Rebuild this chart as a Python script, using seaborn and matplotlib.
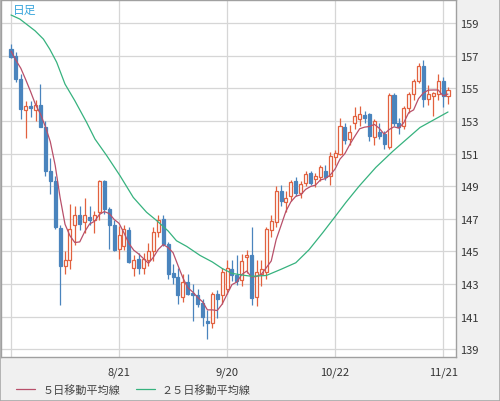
import numpy as np
import pandas as pd
import seaborn as sns
import matplotlib.pyplot as plt
from matplotlib.patches import Rectangle

sns.set_theme(style="white")
plt.rcParams['font.family'] = ['Noto Sans CJK JP', 'DejaVu Sans']

# daily candles, one per weekday from 7/22 to 11/22
opens = [157.40, 157.00, 155.60, 153.70, 153.90, 153.65, 154.00, 152.65, 149.90, 149.30,
         146.45, 144.10, 144.50, 146.60, 147.20, 146.80, 147.10, 146.90, 147.40, 149.30,
         147.60, 146.60, 145.15, 145.30, 146.30, 144.00, 144.55, 144.00, 144.50, 145.00,
         146.20, 147.00, 145.45, 143.65, 143.45, 142.20, 143.10, 142.45, 142.30, 141.85,
         140.75, 140.60, 142.40, 142.35, 142.70, 143.90, 143.55, 143.25, 144.65, 144.75,
         142.20, 143.60, 143.75, 146.30, 146.80, 148.70, 148.00, 148.40, 149.30, 148.60,
         149.20, 149.80, 149.45, 149.55, 149.90, 149.60, 150.80, 151.00, 152.65, 151.90,
         152.90, 153.10, 153.35, 153.40, 152.00, 152.30, 152.20, 151.40, 154.60, 152.90,
         152.70, 153.80, 154.65, 155.45, 156.35, 154.35, 154.55, 154.65, 155.45, 154.55]
highs = [157.70, 157.20, 155.90, 154.25, 154.20, 154.30, 155.25, 153.00, 150.70, 149.60,
         146.60, 145.00, 147.90, 147.80, 147.80, 148.30, 147.80, 147.50, 149.40, 149.40,
         147.70, 146.90, 146.55, 146.60, 146.50, 144.80, 144.90, 144.90, 145.50, 146.50,
         147.20, 147.20, 145.60, 144.20, 144.00, 143.60, 143.60, 143.00, 142.70, 142.10,
         141.40, 142.50, 142.60, 144.00, 144.50, 144.50, 144.75, 144.85, 145.10, 146.50,
         144.50, 144.50, 146.50, 147.20, 149.00, 149.10, 148.70, 149.35, 149.55, 149.30,
         149.95, 149.95, 149.80, 150.30, 150.30, 151.10, 151.20, 153.20, 152.90, 152.75,
         153.85, 153.90, 153.60, 153.50, 153.10, 152.90, 152.40, 154.70, 154.70, 153.20,
         153.90, 154.75, 155.60, 156.55, 156.75, 155.20, 154.80, 155.85, 155.70, 155.10]
lows = [156.85, 155.40, 153.10, 151.95, 153.25, 153.00, 152.60, 149.60, 148.50, 146.40,
        141.70, 143.60, 143.90, 145.40, 146.30, 146.10, 146.60, 146.10, 146.90, 147.30,
        145.15, 145.00, 144.55, 145.10, 144.30, 143.50, 143.60, 143.60, 144.10, 144.40,
        145.90, 145.30, 143.30, 143.00, 141.75, 141.90, 142.30, 140.75, 141.60, 140.40,
        139.60, 140.30, 140.90, 141.80, 142.40, 143.20, 142.95, 142.90, 143.70, 141.70,
        141.65, 142.90, 143.30, 145.90, 146.50, 147.80, 147.40, 148.10, 148.40, 148.25,
        149.00, 149.10, 148.95, 149.30, 149.40, 149.10, 150.30, 150.90, 151.60, 151.50,
        152.50, 152.70, 152.90, 151.80, 151.50, 151.90, 151.30, 151.30, 152.70, 152.20,
        152.50, 153.50, 154.30, 155.30, 153.85, 154.00, 153.30, 154.30, 153.85, 154.05]
closes = [156.95, 155.55, 153.75, 153.90, 153.80, 154.00, 152.65, 149.90, 149.30, 146.50,
          144.10, 144.50, 146.40, 147.20, 146.70, 147.20, 146.90, 147.20, 149.30, 147.60,
          146.60, 145.10, 146.00, 146.40, 144.35, 144.50, 143.95, 144.55, 145.00, 146.20,
          146.90, 145.45, 143.60, 143.45, 142.30, 143.10, 142.40, 142.30, 141.80, 140.95,
          140.60, 142.40, 142.10, 143.75, 144.00, 143.55, 143.20, 144.40, 144.80, 142.15,
          143.75, 143.90, 146.40, 146.85, 148.70, 148.10, 148.30, 149.25, 148.55, 149.15,
          149.75, 149.20, 149.65, 150.15, 149.55, 150.85, 151.05, 152.70, 151.85, 152.35,
          153.30, 153.40, 153.20, 152.05, 153.00, 152.10, 151.60, 154.60, 152.90, 152.60,
          153.80, 154.65, 155.45, 156.35, 154.35, 154.65, 154.70, 155.45, 154.55, 154.90]

# 5-day moving average, one value per candle
ma5 = [157.28, 156.72, 156.23, 155.53, 154.79, 154.00, 153.42, 152.65, 151.73, 150.27,
       148.29, 146.66, 145.96, 145.54, 145.58, 146.20, 146.68, 146.84, 147.26, 147.44,
       147.32, 146.96, 146.72, 146.14, 145.49, 145.07, 144.84, 144.55, 144.27, 144.64,
       145.12, 145.42, 145.23, 144.92, 144.14, 143.38, 142.77, 142.51, 142.18, 141.91,
       141.41, 141.41, 141.37, 141.76, 142.37, 142.96, 143.12, 143.58, 143.79, 143.42,
       143.46, 143.60, 144.00, 144.41, 145.72, 146.59, 147.47, 148.04, 148.38, 148.47,
       148.80, 148.98, 149.06, 149.38, 149.46, 149.68, 150.05, 150.66, 151.00, 151.56,
       152.05, 152.52, 152.62, 152.66, 152.79, 152.55, 152.19, 152.47, 152.64, 152.56,
       152.90, 153.51, 153.68, 154.37, 154.72, 154.89, 154.90, 154.90, 154.54, 154.65]

# 25-day moving average, read at these candle positions
ma25_pos = [0, 1.8, 4.9, 6.6, 7.9, 9.3, 11, 13, 15.4, 17.1, 19.5, 22.2, 24.9, 27.6,
            29.7, 32, 33.7, 35.8, 38.5, 41, 43, 45, 47, 49, 52, 55, 58, 60.7, 63.5,
            65.8, 68.2, 70.9, 74.3, 77.8, 83.3, 89]
ma25 = [159.50, 159.25, 158.53, 158.02, 157.40, 156.60, 155.26, 154.24, 152.91, 151.89,
        150.87, 149.64, 148.31, 147.40, 146.88, 146.25, 145.65, 145.30, 144.75, 144.35,
        143.95, 143.65, 143.55, 143.47, 143.52, 143.90, 144.30, 145.10, 146.15, 147.05,
        148.00, 149.00, 150.15, 151.15, 152.60, 153.55]

tick_pos = [22, 44, 66, 88]
tick_labels = ['8/21', '9/20', '10/22', '11/21']
ytick_vals = list(range(139, 160, 2))

UP = '#e2613f'
DOWN = '#4a84bd'

df = pd.DataFrame({'o': opens, 'h': highs, 'l': lows, 'c': closes})
df['i'] = np.arange(len(df))
up = df[df.c >= df.o]
dn = df[df.c < df.o]

fig = plt.figure(figsize=(5, 4.02), dpi=100, facecolor='#f0f0f0')
ax = fig.add_axes([0.002, 0.1095, 0.91, 0.888])
ax.set_facecolor('white')

# candles
ax.vlines(up.i, up.l, up.h, color=UP, lw=0.9, zorder=2)
ax.bar(up.i, up.c - up.o, bottom=up.o, width=0.62, color='white',
       edgecolor=UP, linewidth=0.9, zorder=3)
ax.vlines(dn.i, dn.l, dn.h, color=DOWN, lw=0.9, zorder=2)
ax.bar(dn.i, dn.c - dn.o, bottom=dn.o, width=0.62, color=DOWN,
       edgecolor=DOWN, linewidth=0.9, zorder=3)

sns.lineplot(x=df.i, y=ma5, ax=ax, color='#b8506a', lw=0.9,
             label='５日移動平均線', zorder=4)
sns.lineplot(x=ma25_pos, y=ma25, ax=ax, color='#36b27e', lw=0.9,
             label='２５日移動平均線', zorder=4)

ax.set_xlim(-2.04, 90.63)
ax.set_ylim(138.52, 160.42)
ax.set_xticks(tick_pos)
ax.set_xticklabels(tick_labels)
ax.set_xticks([0], minor=True)
ax.set_yticks(ytick_vals)
ax.yaxis.tick_right()
ax.set_xlabel('')
ax.set_ylabel('')
ax.tick_params(axis='both', which='both', length=0, labelsize=8, colors='#333333')
ax.tick_params(axis='x', pad=7)
ax.tick_params(axis='y', pad=3)
ax.grid(True, which='both', color='#d6d6d6', lw=0.9, zorder=0)
ax.set_axisbelow(True)
for s in ax.spines.values():
    s.set_color('#a0a0a0')
    s.set_linewidth(1.0)

ax.text(0.026, 0.973, '日足', transform=ax.transAxes, ha='left', va='center',
        fontsize=8.5, color='#3aa6dc')

handles, labels = ax.get_legend_handles_labels()
ax.legend_.remove()
leg = fig.legend(handles, labels, loc='center left', bbox_to_anchor=(0.012, 0.029),
                 ncol=2, frameon=False, fontsize=8, handlelength=1.75,
                 handletextpad=0.6, columnspacing=1.4)
for t in leg.get_texts():
    t.set_color('#444444')

fig.patches.append(Rectangle((0, 0), 1, 1, transform=fig.transFigure, fill=False,
                             edgecolor='#a8a8a8', lw=1.2))

fig.savefig('out.png', dpi=100, facecolor=fig.get_facecolor())
